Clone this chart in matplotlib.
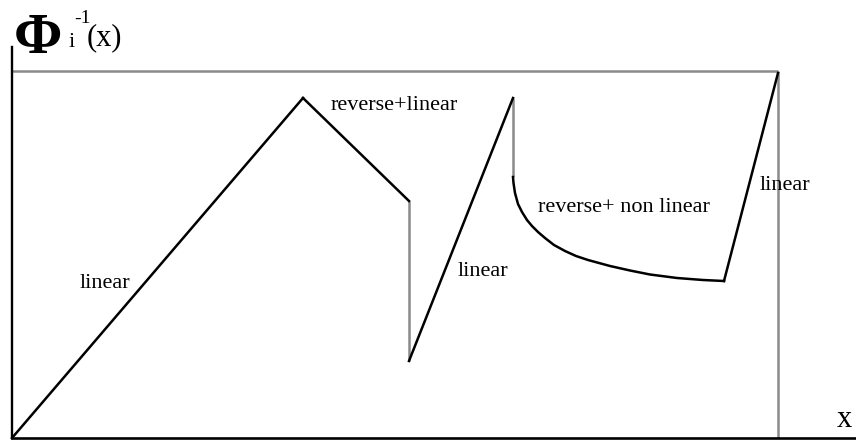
import matplotlib
matplotlib.use("Agg")
import matplotlib.pyplot as plt

# ---- data (x, y in chart units; origin at axes corner) ----
rise_x = [0, 291]
rise_y = [0, 340]
rev_lin_x = [291, 397]
rev_lin_y = [340, 237]
drop1_x = [397, 397]
drop1_y = [237, 77]
lin2_x = [397, 501]
lin2_y = [77, 340]
drop2_x = [501, 501]
drop2_y = [340, 261]
curve_x = [501, 501.5, 503, 506, 510, 515, 520, 526, 533, 542, 553, 564, 576, 598, 618, 638, 665, 691, 712]
curve_y = [261, 255, 245, 234, 226, 218, 212, 206, 200, 193, 187, 182, 178, 172, 167.5, 163.5, 160, 158, 157]
lin3_x = [712, 766]
lin3_y = [157, 365]
box_top = 367
box_right = 766

labels = ["linear", "reverse+linear", "linear", "reverse+ non linear", "linear"]
label_x = [68, 319, 446, 526, 748]
label_y = [155, 332, 166, 231, 253]

X_MAX = 844
Y_MAX = 391

fig = plt.figure(figsize=(8.56, 4.40), dpi=100)
ax = fig.add_axes([12 / 856, 2 / 440, 844 / 856, 391 / 440])
ax.set_xlim(0, X_MAX)
ax.set_ylim(0, Y_MAX)
for s in ["top", "right"]:
    ax.spines[s].set_visible(False)
ax.spines["left"].set_linewidth(1.7)
ax.spines["bottom"].set_linewidth(1.9)
ax.set_xticks([])
ax.set_yticks([])

gray = "#8a8a8a"
black = "#000000"
lw = 1.8

# gray frame
ax.plot([0, box_right], [box_top, box_top], color=gray, lw=lw, clip_on=False, solid_capstyle="butt")
ax.plot([box_right, box_right], [0, box_top], color=gray, lw=lw, clip_on=False, solid_capstyle="butt")

# gray vertical jumps
ax.plot(drop1_x, drop1_y, color=gray, lw=lw, solid_capstyle="butt")
ax.plot(drop2_x, drop2_y, color=gray, lw=lw, solid_capstyle="butt")

# black segments
for xs, ys in [(rise_x, rise_y), (rev_lin_x, rev_lin_y), (lin2_x, lin2_y),
               (curve_x, curve_y), (lin3_x, lin3_y)]:
    ax.plot(xs, ys, color=black, lw=lw, clip_on=False, solid_joinstyle="round")

serif = ["Liberation Serif", "DejaVu Serif"]
for t, x, y in zip(labels, label_x, label_y):
    ax.text(x, y, t, fontsize=16, family=serif, ha="left", va="center")

# axis titles
fig.text(14 / 856, 1 - 53 / 440, "\u03a6", fontsize=42, fontweight="bold",
         family=serif, ha="left", va="baseline")
fig.text(69 / 856, 1 - 47 / 440, "i", fontsize=16, family=serif, ha="left", va="baseline")
fig.text(74 / 856, 1 - 23 / 440, "-1", fontsize=14, family=serif, ha="left", va="baseline")
fig.text(87 / 856, 1 - 45 / 440, "(x)", fontsize=22, family=serif, ha="left", va="baseline")
fig.text(837 / 856, 1 - 427 / 440, "x", fontsize=22, family=serif, ha="left", va="baseline")

fig.savefig("out.png", dpi=100)
